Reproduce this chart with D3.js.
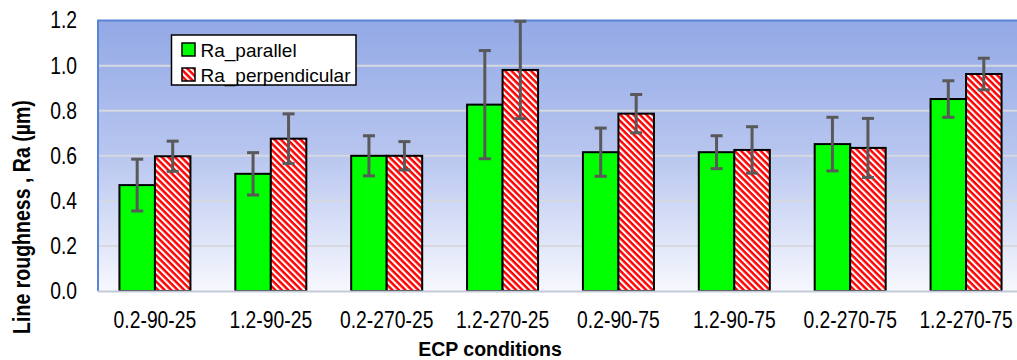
<!DOCTYPE html>
<html>
<head>
<meta charset="utf-8">
<script src="https://cdn.jsdelivr.net/npm/d3@7"></script>
<style>
  body { margin: 0; background: #fff; }
  svg { display: block; font-family: "Liberation Sans", Arial, sans-serif; }
</style>
</head>
<body>
<div id="chart"></div>
<script>
// Data
const conditions = ["0.2-90-25", "1.2-90-25", "0.2-270-25", "1.2-270-25",
                    "0.2-90-75", "1.2-90-75", "0.2-270-75", "1.2-270-75"];
const seriesNames = ["Ra_parallel", "Ra_perpendicular"];
const raParallel      = [0.47, 0.52, 0.60, 0.827, 0.616, 0.616, 0.652, 0.852];
const raParallelErr   = [0.115, 0.094, 0.089, 0.24, 0.107, 0.073, 0.119, 0.081];
const raPerpendicular = [0.598, 0.676, 0.60, 0.981, 0.787, 0.626, 0.635, 0.963];
const raPerpErr       = [0.067, 0.11, 0.063, 0.216, 0.085, 0.103, 0.131, 0.07];
const yTicks = [0, 0.2, 0.4, 0.6, 0.8, 1.0, 1.2];

const width = 1017, height = 360;
const plot = { left: 98, top: 20.6, bottom: 291, right: 1024 };
const narrow = "scale(0.84,1)";

const svg = d3.select("#chart").append("svg")
  .attr("width", width)
  .attr("height", height);

const defs = svg.append("defs");

const grad = defs.append("linearGradient")
  .attr("id", "bg")
  .attr("x1", 0).attr("y1", 0).attr("x2", 0).attr("y2", 1);
grad.append("stop").attr("offset", "0%").attr("stop-color", "#93a9e6");
grad.append("stop").attr("offset", "50%").attr("stop-color", "#b8c6ef");
grad.append("stop").attr("offset", "100%").attr("stop-color", "#f7f8fe");

// wide downward diagonal hatch
const pat = defs.append("pattern")
  .attr("id", "hatch")
  .attr("patternUnits", "userSpaceOnUse")
  .attr("width", 4.6).attr("height", 4.6)
  .attr("patternTransform", "rotate(45)");
pat.append("rect").attr("width", 4.6).attr("height", 4.6).attr("fill", "#fff");
pat.append("rect").attr("width", 4.6).attr("height", 2.5).attr("fill", "#ff0000");

const y = d3.scaleLinear().domain([0, 1.2]).range([plot.bottom, plot.top]);
const x0 = d3.scaleBand().domain(conditions).range([97, 1024]).padding(0);
const half = 35.5;
const x1 = d3.scaleBand().domain(seriesNames)
  .range([x0.bandwidth() / 2 - half, x0.bandwidth() / 2 + half]);

// plot background
svg.append("rect")
  .attr("x", plot.left).attr("y", y(1.2))
  .attr("width", plot.right - plot.left)
  .attr("height", plot.bottom - y(1.2))
  .attr("fill", "url(#bg)");

// gridlines
svg.append("g")
  .selectAll("line")
  .data(yTicks.filter((d) => d > 0 && d < 1.2))
  .enter()
  .append("line")
  .attr("x1", plot.left).attr("x2", plot.right)
  .attr("y1", (d) => y(d)).attr("y2", (d) => y(d))
  .attr("stroke", "#d6d9e0")
  .attr("stroke-width", 2);

// plot border (left + top)
svg.append("path")
  .attr("d", `M${plot.left},${plot.bottom} V${y(1.2)} H${plot.right}`)
  .attr("fill", "none")
  .attr("stroke", "#5a84d6")
  .attr("stroke-width", 2);

// bars
const series = [
  { name: seriesNames[0], values: raParallel, errs: raParallelErr, fill: "#00ff00" },
  { name: seriesNames[1], values: raPerpendicular, errs: raPerpErr, fill: "url(#hatch)" },
];

const rows = [];
series.forEach((s) => {
  conditions.forEach((c, i) => {
    rows.push({ cond: c, name: s.name, value: s.values[i], err: s.errs[i], fill: s.fill });
  });
});

svg.append("g")
  .selectAll("rect")
  .data(rows)
  .enter()
  .append("rect")
  .attr("x", (d) => x0(d.cond) + x1(d.name))
  .attr("y", (d) => y(d.value))
  .attr("width", x1.bandwidth())
  .attr("height", (d) => y(0) - y(d.value))
  .attr("fill", (d) => d.fill)
  .attr("stroke", "#000")
  .attr("stroke-width", 2);

// x axis line
const xAxis = svg.append("g")
  .attr("transform", `translate(0,${plot.bottom})`)
  .call(d3.axisBottom(x0).tickSize(0).tickPadding(21));
xAxis.select(".domain").attr("stroke", "#c3cad8").attr("stroke-width", 2);
xAxis.selectAll("text")
  .attr("font-size", 23)
  .attr("font-family", "Liberation Sans, Arial, sans-serif")
  .attr("fill", "#000")
  .attr("transform", narrow);

// error bars
const eb = svg.append("g")
  .attr("stroke", "#595959")
  .attr("stroke-width", 3)
  .selectAll("g")
  .data(rows)
  .enter()
  .append("g")
  .attr("transform", (d) => `translate(${x0(d.cond) + x1(d.name) + x1.bandwidth() / 2},0)`);
eb.append("line")
  .attr("y1", (d) => y(d.value + d.err))
  .attr("y2", (d) => y(d.value - d.err));
eb.append("line")
  .attr("x1", -6).attr("x2", 6)
  .attr("y1", (d) => y(d.value + d.err))
  .attr("y2", (d) => y(d.value + d.err));
eb.append("line")
  .attr("x1", -6).attr("x2", 6)
  .attr("y1", (d) => y(d.value - d.err))
  .attr("y2", (d) => y(d.value - d.err));

// y axis labels
const yAxis = svg.append("g")
  .attr("transform", "translate(77,0)")
  .call(d3.axisLeft(y).tickValues(yTicks).tickFormat(d3.format(".1f")).tickSize(0).tickPadding(0));
yAxis.select(".domain").remove();
yAxis.selectAll("text")
  .attr("font-size", 23)
  .attr("font-family", "Liberation Sans, Arial, sans-serif")
  .attr("fill", "#000")
  .attr("transform", narrow);

// axis titles
svg.append("text")
  .attr("transform", "translate(30,217) rotate(-90) scale(0.85,1)")
  .attr("text-anchor", "middle")
  .attr("font-size", 23)
  .attr("font-weight", "bold")
  .text("Line roughness , Ra (\u00b5m)");

svg.append("text")
  .attr("x", 490)
  .attr("y", 356)
  .attr("text-anchor", "middle")
  .attr("font-size", 19.5)
  .attr("font-weight", "bold")
  .text("ECP conditions");

// legend
const legend = svg.append("g");
legend.append("rect")
  .attr("x", 171.5).attr("y", 35)
  .attr("width", 184.5).attr("height", 50)
  .attr("fill", "#fff")
  .attr("stroke", "#000")
  .attr("stroke-width", 1.5);

const items = legend.selectAll(".item")
  .data(series)
  .enter()
  .append("g")
  .attr("class", "item")
  .attr("transform", (d, i) => `translate(182,${43 + i * 25})`);
items.append("rect")
  .attr("width", 13).attr("height", 13)
  .attr("fill", (d) => d.fill)
  .attr("stroke", "#000")
  .attr("stroke-width", 1.5);
items.append("text")
  .attr("x", 18.5)
  .attr("y", 13.5)
  .attr("font-size", 19)
  .text((d) => d.name);
</script>
</body>
</html>
